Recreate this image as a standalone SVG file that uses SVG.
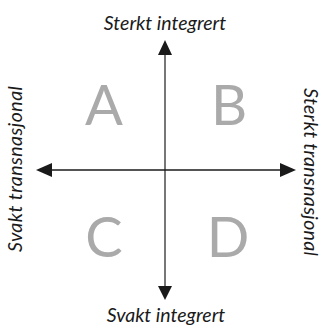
<svg xmlns="http://www.w3.org/2000/svg" width="322" height="330" viewBox="0 0 322 330">
<style>
.lbl{font-family:Lato,"Open Sans","Liberation Sans",sans-serif;font-style:italic;font-size:19.5px;fill:#1a1a1a}
.q{font-family:Lato,"Liberation Sans",sans-serif;font-size:56px;fill:#aaaaaa}
.ax{stroke-width:1.6;fill:none}
.head{fill:#1a1a1a}
</style>
<rect width="322" height="330" fill="#ffffff"/>
<g id="connectors">
<line class="ax" x1="165" y1="54" x2="165" y2="288" stroke="#555555"/>
<line class="ax" x1="51" y1="170" x2="281" y2="170" stroke="#1a1a1a"/>
<polygon class="head" points="165,40 158,55 172,55"/>
<polygon class="head" points="165,300 158,286 172,286"/>
<polygon class="head" points="36,170 52,163 52,177"/>
<polygon class="head" points="296,170 280,163 280,177"/>
</g>
<g id="top"><text class="lbl" x="165" y="30" text-anchor="middle">Sterkt integrert</text></g>
<g id="bottom"><text class="lbl" x="166" y="322" text-anchor="middle">Svakt integrert</text></g>
<g id="left"><text class="lbl" transform="translate(22,169) rotate(-90)" text-anchor="middle" textLength="166">Svakt transnasjonal</text></g>
<g id="right"><text class="lbl" transform="translate(304,172) rotate(90)" text-anchor="middle" textLength="168">Sterkt transnasjonal</text></g>
<g id="A"><text class="q" x="104" y="125" text-anchor="middle">A</text></g>
<g id="B"><text class="q" x="229" y="125" text-anchor="middle">B</text></g>
<g id="C"><text class="q" x="104" y="257" text-anchor="middle">C</text></g>
<g id="D"><text class="q" x="228" y="257" text-anchor="middle">D</text></g>
</svg>
